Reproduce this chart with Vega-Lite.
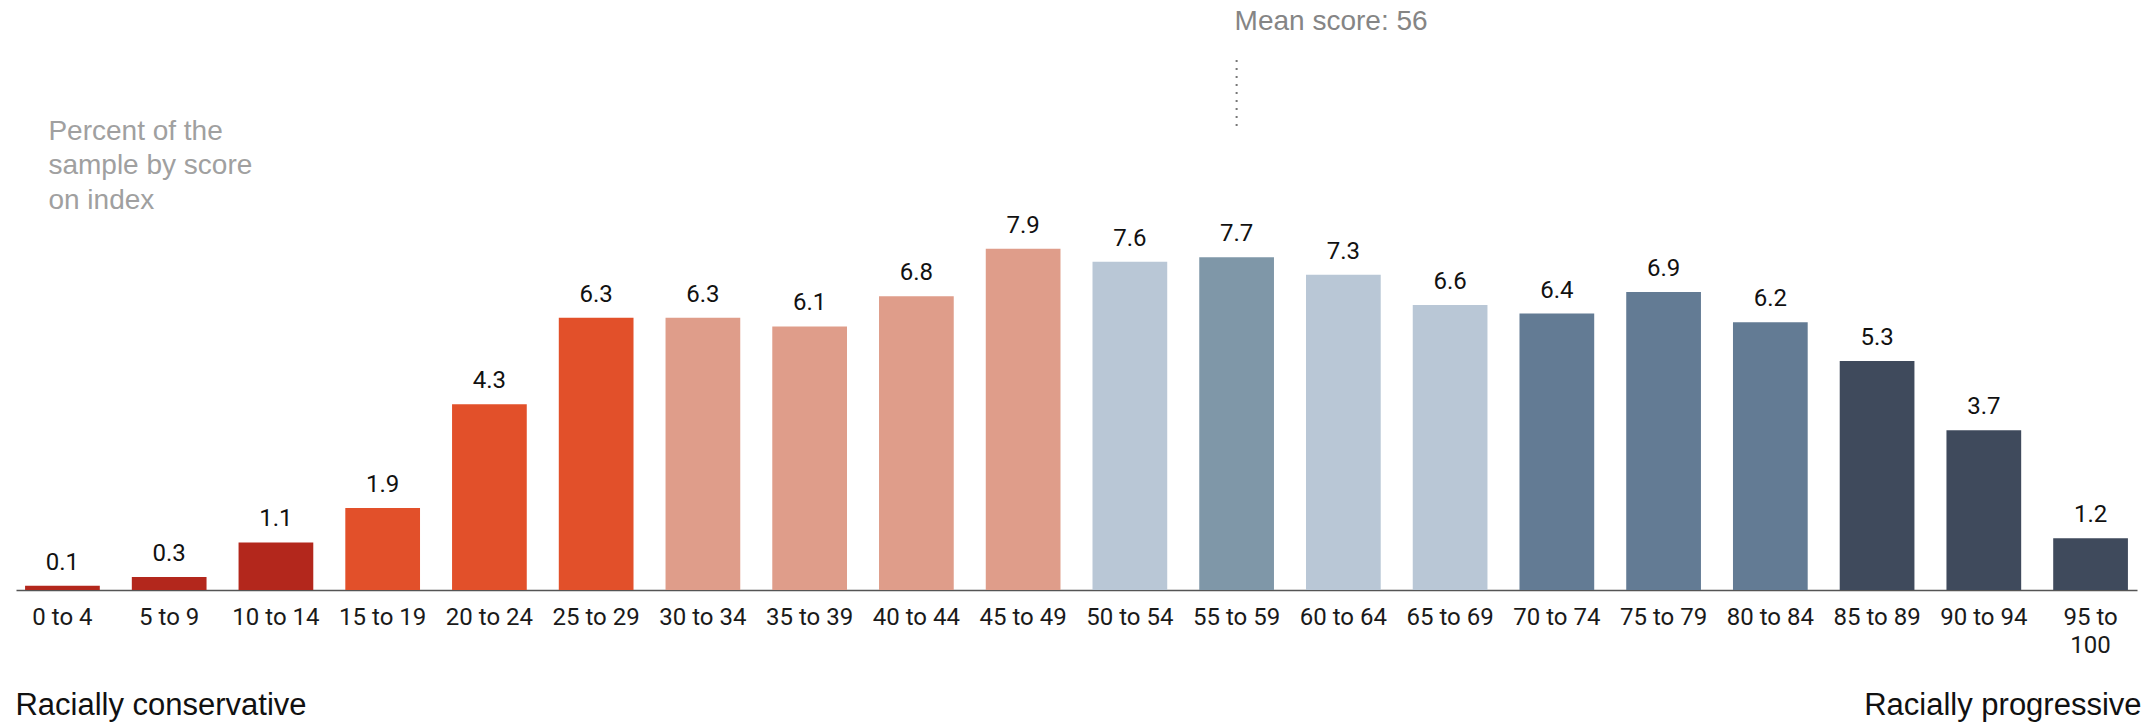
{
  "$schema": "https://vega.github.io/schema/vega-lite/v6.json",
  "width": 2121,
  "height": 432,
  "autosize": {"type": "none"},
  "padding": {"left": 16, "top": 158, "right": 18, "bottom": 132},
  "background": "white",
  "config": {"view": {"stroke": null}},
  "datasets": {
    "scores": [
      {"range": "0 to 4", "pct": 0.1, "tier": "Strongly conservative"},
      {"range": "5 to 9", "pct": 0.3, "tier": "Strongly conservative"},
      {"range": "10 to 14", "pct": 1.1, "tier": "Strongly conservative"},
      {"range": "15 to 19", "pct": 1.9, "tier": "Conservative"},
      {"range": "20 to 24", "pct": 4.3, "tier": "Conservative"},
      {"range": "25 to 29", "pct": 6.3, "tier": "Conservative"},
      {"range": "30 to 34", "pct": 6.3, "tier": "Leaning conservative"},
      {"range": "35 to 39", "pct": 6.1, "tier": "Leaning conservative"},
      {"range": "40 to 44", "pct": 6.8, "tier": "Leaning conservative"},
      {"range": "45 to 49", "pct": 7.9, "tier": "Leaning conservative"},
      {"range": "50 to 54", "pct": 7.6, "tier": "Leaning progressive"},
      {"range": "55 to 59", "pct": 7.7, "tier": "Mean"},
      {"range": "60 to 64", "pct": 7.3, "tier": "Leaning progressive"},
      {"range": "65 to 69", "pct": 6.6, "tier": "Leaning progressive"},
      {"range": "70 to 74", "pct": 6.4, "tier": "Progressive"},
      {"range": "75 to 79", "pct": 6.9, "tier": "Progressive"},
      {"range": "80 to 84", "pct": 6.2, "tier": "Progressive"},
      {"range": "85 to 89", "pct": 5.3, "tier": "Strongly progressive"},
      {"range": "90 to 94", "pct": 3.7, "tier": "Strongly progressive"},
      {"range": "95 to 100", "pct": 1.2, "tier": "Strongly progressive"}
    ]
  },
  "encoding": {
    "x": {
      "field": "range",
      "type": "ordinal",
      "sort": null,
      "scale": {"paddingInner": 0.3, "paddingOuter": 0.085},
      "axis": {
        "title": null,
        "ticks": false,
        "grid": false,
        "domainColor": "#555555",
        "domainWidth": 1.5,
        "labelAngle": 0,
        "labelFont": "Roboto",
        "labelFontSize": 24,
        "labelColor": "#1a1a1a",
        "labelPadding": 15,
        "labelLineHeight": 28,
        "labelExpr": "datum.label == '95 to 100' ? ['95 to', '100'] : datum.label"
      }
    },
    "y": {
      "field": "pct",
      "type": "quantitative",
      "scale": {"domain": [0, 10], "nice": false},
      "axis": null
    }
  },
  "layer": [
    {
      "data": {"name": "scores"},
      "mark": {"type": "bar"},
      "encoding": {
        "color": {
          "field": "tier",
          "type": "nominal",
          "scale": {
            "domain": ["Strongly conservative", "Conservative", "Leaning conservative", "Leaning progressive", "Mean", "Progressive", "Strongly progressive"],
            "range": ["#b3271c", "#e2502a", "#df9d8a", "#b9c7d6", "#7f97a8", "#637b94", "#3f4a5c"]
          },
          "legend": null
        }
      }
    },
    {
      "data": {"name": "scores"},
      "mark": {"type": "text", "font": "Roboto", "fontSize": 24, "color": "#111111", "baseline": "alphabetic", "dy": -16},
      "encoding": {"text": {"field": "pct", "type": "quantitative", "format": ".1f"}}
    },
    {
      "data": {"values": [{"range": "55 to 59", "from": 12.27, "to": 10.72}]},
      "mark": {"type": "rule", "color": "#777777", "strokeWidth": 2, "strokeDash": [2, 6]},
      "encoding": {
        "y": {"field": "from", "type": "quantitative"},
        "y2": {"field": "to"}
      }
    },
    {
      "data": {"values": [{"range": "55 to 59", "level": 12.96, "note": "Mean score: 56"}]},
      "mark": {"type": "text", "font": "Liberation Sans", "fontSize": 28, "color": "#858585", "align": "left", "baseline": "alphabetic", "dx": -2},
      "encoding": {
        "y": {"field": "level", "type": "quantitative"},
        "text": {"field": "note"}
      }
    },
    {
      "data": {"values": [{"range": "0 to 4", "level": 10.42, "note": ["Percent of the", "sample by score", "on index"]}]},
      "mark": {"type": "text", "font": "Liberation Sans", "fontSize": 28, "color": "#a0a0a0", "align": "left", "baseline": "alphabetic", "dx": -14, "lineHeight": 34.5},
      "encoding": {
        "y": {"field": "level", "type": "quantitative"},
        "text": {"field": "note"}
      }
    },
    {
      "data": {"values": [{"range": "0 to 4", "level": -2.89, "note": "Racially conservative"}]},
      "mark": {"type": "text", "font": "Liberation Sans", "fontSize": 31, "color": "#111111", "align": "left", "baseline": "alphabetic", "dx": -47},
      "encoding": {
        "y": {"field": "level", "type": "quantitative"},
        "text": {"field": "note"}
      }
    },
    {
      "data": {"values": [{"range": "95 to 100", "level": -2.89, "note": "Racially progressive"}]},
      "mark": {"type": "text", "font": "Liberation Sans", "fontSize": 31, "color": "#111111", "align": "right", "baseline": "alphabetic", "dx": 51},
      "encoding": {
        "y": {"field": "level", "type": "quantitative"},
        "text": {"field": "note"}
      }
    }
  ]
}
